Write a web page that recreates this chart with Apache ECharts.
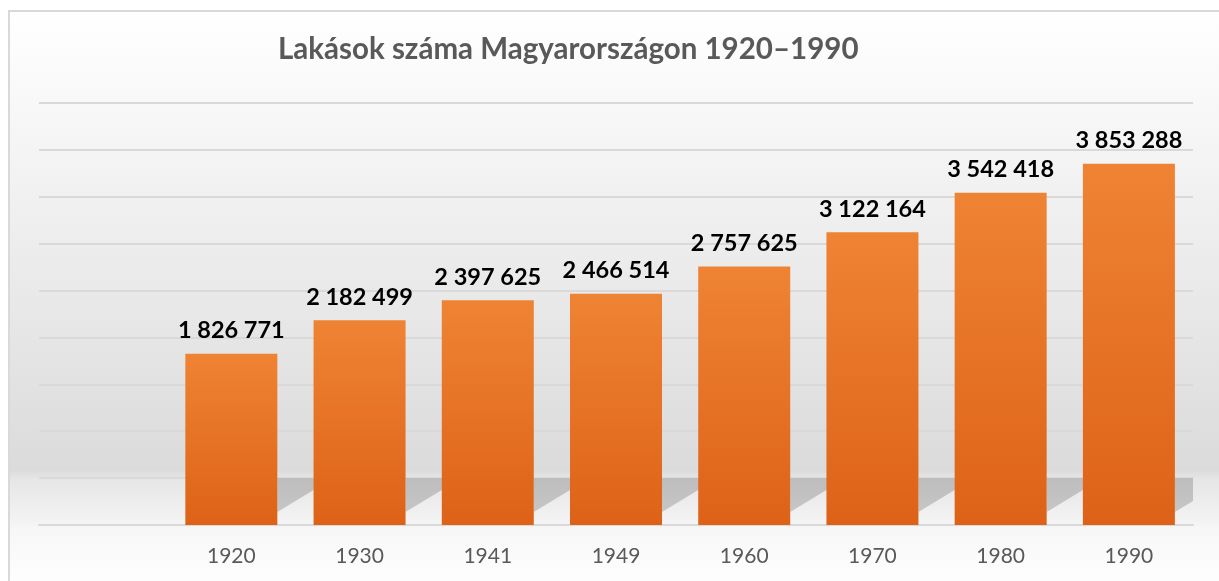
<!DOCTYPE html>
<html>
<head>
<meta charset="utf-8">
<script src="https://cdn.jsdelivr.net/npm/echarts@6/dist/echarts.min.js"></script>
<style>
html,body{margin:0;padding:0;background:#ffffff;}
#main{width:1219px;height:581px;}
</style>
</head>
<body>
<div id="main"></div>
<script>
var titleText = 'Lakások száma Magyarországon 1920–1990';
var years = ['1920', '1930', '1941', '1949', '1960', '1970', '1980', '1990'];
var dwellings = [1826771, 2182499, 2397625, 2466514, 2757625, 3122164, 3542418, 3853288];
var yMin = 0, yMax = 4500000, yStep = 500000;

var categories = [''].concat(years);
var barData = [null].concat(dwellings);
var shadowData = dwellings.map(function (v, i) { return [i + 1, v]; });

function fmt(v) {
  return String(v).replace(/\B(?=(\d{3})+(?!\d))/g, ' ');
}

var BAR_W = 92;
var chart = echarts.init(document.getElementById('main'), null, {renderer: 'canvas'});
chart.setOption({
  animation: false,
  backgroundColor: '#ffffff',
  title: {
    text: titleText,
    left: 273,
    top: 29,
    textStyle: {fontFamily: 'Lato', fontWeight: 'bold', fontSize: 29.5, color: '#595959'}
  },
  graphic: [
    {
      type: 'rect', z: -10, silent: true,
      shape: {x: 9, y: 11, width: 1220, height: 580},
      style: {
        fill: new echarts.graphic.LinearGradient(0, 0, 0, 1, [
          {offset: 0, color: '#ffffff'},
          {offset: 0.16, color: '#f8f8f8'},
          {offset: 0.79, color: '#dbdbdb'},
          {offset: 0.806, color: '#e6e6e6'},
          {offset: 0.885, color: '#f4f4f4'},
          {offset: 0.89, color: '#f7f7f7'},
          {offset: 1, color: '#ffffff'}
        ]),
        stroke: '#d9d9d9', lineWidth: 2
      }
    }
  ],
  grid: {left: 39, right: 26, top: 103, bottom: 56, containLabel: false},
  xAxis: {
    type: 'category',
    data: categories,
    axisLine: {show: true, lineStyle: {color: '#d9d9d9', width: 2}},
    axisTick: {show: false},
    axisLabel: {fontFamily: 'Lato', fontSize: 21, color: '#595959', margin: 21}
  },
  yAxis: {
    type: 'value',
    min: yMin, max: yMax, interval: yStep,
    axisLabel: {show: false},
    axisLine: {show: false},
    axisTick: {show: false},
    splitLine: {lineStyle: {color: '#d9d9d9', width: 2}}
  },
  series: [
    {
      type: 'custom',
      z: 1,
      silent: true,
      data: shadowData,
      renderItem: function (params, api) {
        var cs = params.coordSys;
        var xmax = cs.x + cs.width;
        var c = api.coord([api.value(0), 0]);
        var t = api.coord([api.value(0), yStep]);
        var xR = c[0] + BAR_W / 2;
        var base = c[1] - 13, top = t[1];
        var sw = 56;
        var pts;
        if (xR + sw > xmax) {
          var yy = base - (xmax - xR) / sw * (base - top);
          pts = [[xR, base], [xR, top], [xmax, top], [xmax, yy]];
        } else {
          pts = [[xR, base], [xR, top], [xR + sw, top]];
        }
        return {
          type: 'polygon',
          shape: {points: pts},
          style: {
            fill: new echarts.graphic.LinearGradient(0, 0, 0, 1, [
              {offset: 0, color: '#bdbdbd'},
              {offset: 1, color: '#c6c6c6'}
            ])
          }
        };
      }
    },
    {
      type: 'bar',
      z: 2,
      data: barData,
      barWidth: BAR_W,
      itemStyle: {
        color: new echarts.graphic.LinearGradient(0, 0, 0, 1, [
          {offset: 0, color: '#ef8334'},
          {offset: 1, color: '#dd6217'}
        ])
      },
      label: {
        show: true,
        position: 'top',
        distance: 11,
        fontFamily: 'Lato',
        fontWeight: 'bold',
        fontSize: 23.5,
        color: '#000000',
        formatter: function (p) { return fmt(p.value); }
      }
    }
  ]
});
</script>
</body>
</html>
